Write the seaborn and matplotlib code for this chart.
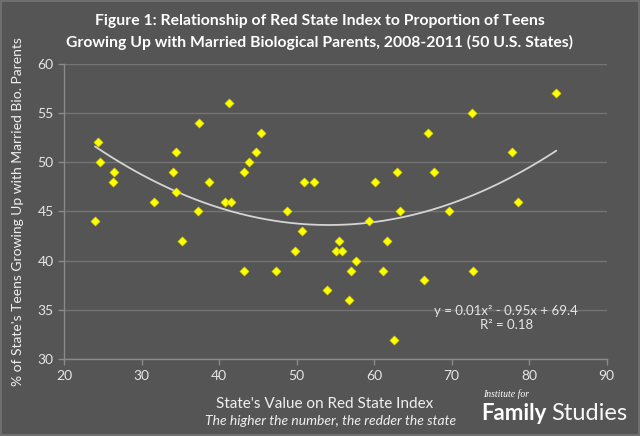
import numpy as np
import pandas as pd
import matplotlib
matplotlib.use("Agg")
import matplotlib.pyplot as plt
import seaborn as sns

red_state_index = [24.0, 24.4, 24.6, 26.5, 26.3, 31.6, 34.5, 34.1, 34.4, 35.2,
                   37.4, 37.3, 38.7, 41.3, 40.8, 41.6, 43.2, 43.9, 44.7, 45.4,
                   43.2, 47.3, 48.8, 49.8, 50.7, 51.0, 52.2, 53.9, 55.5, 55.1,
                   55.8, 57.6, 57.0, 56.8, 59.4, 60.1, 61.6, 61.1, 62.6, 62.9,
                   63.3, 66.9, 67.7, 66.4, 72.6, 69.7, 72.7, 77.8, 78.5, 83.5]
pct_married_bio = [44, 52, 50, 49, 48, 46, 51, 49, 47, 42,
                   54, 45, 48, 56, 46, 46, 49, 50, 51, 53,
                   39, 39, 45, 41, 43, 48, 48, 37, 42, 41,
                   41, 40, 39, 36, 44, 48, 42, 39, 32, 49,
                   45, 53, 49, 38, 55, 45, 39, 51, 46, 57]
x_ticks = [20, 30, 40, 50, 60, 70, 80, 90]
y_ticks = [30, 35, 40, 45, 50, 55, 60]

df = pd.DataFrame({"x": red_state_index, "y": pct_married_bio})

BG = "#555555"
sns.set_theme(style="dark")
plt.rcParams["font.family"] = ["Lato", "DejaVu Sans"]

fig = plt.figure(figsize=(6.4, 4.36), dpi=100, facecolor=BG,
                 edgecolor="#6e6e6e", linewidth=1.5)
ax = fig.add_axes([0.1, 0.176, 0.848, 0.678])
ax.set_facecolor(BG)

sns.regplot(data=df, x="x", y="y", order=2, ci=None, scatter=False, ax=ax,
            line_kws=dict(color="#d4d4d4", lw=1.3), truncate=True)
sns.scatterplot(data=df, x="x", y="y", marker="D", s=22, color="#ffff00",
                edgecolor="#c8c800", linewidth=0.4, ax=ax, zorder=5)

ax.set_xlim(20, 90)
ax.set_ylim(30, 60)
ax.set_xticks(x_ticks)
ax.set_yticks(y_ticks)
ax.grid(axis="y", color="#747474", lw=1.0)
ax.grid(axis="x", visible=False)
for s in ["top", "right"]:
    ax.spines[s].set_visible(False)
for s in ["left", "bottom"]:
    ax.spines[s].set_visible(True)
    ax.spines[s].set_color("#8a8a8a")
    ax.spines[s].set_linewidth(1.0)
ax.tick_params(axis="both", colors="#8a8a8a", length=4, width=1,
               labelcolor="#e6e6e6", labelsize=10, direction="out",
               bottom=True, left=True)
ax.set_xlabel("")
ax.set_ylabel("")

fig.text(0.5, 0.952, "Figure 1: Relationship of Red State Index to Proportion of Teens",
         ha="center", va="center", color="white", fontsize=11.3, fontweight="bold")
fig.text(0.5, 0.903, "Growing Up with Married Biological Parents, 2008-2011 (50 U.S. States)",
         ha="center", va="center", color="white", fontsize=11.3, fontweight="bold")

fig.text(0.028, 0.515, "% of State's Teens Growing Up with Married Bio. Parents",
         rotation=90, ha="center", va="center", color="#f0f0f0", fontsize=10)
fig.text(0.508, 0.073, "State's Value on Red State Index",
         ha="center", va="center", color="#f0f0f0", fontsize=11)
fig.text(0.517, 0.034, "The higher the number, the redder the state",
         ha="center", va="center", color="#f0f0f0", fontsize=10, style="italic")

ax.text(0.815, 0.14, "y = 0.01x\u00b2 - 0.95x + 69.4\nR\u00b2 = 0.18",
        transform=ax.transAxes, ha="center", va="center", color="#e6e6e6",
        fontsize=9.5, linespacing=1.15)

fig.text(0.754, 0.097, "Institute for", ha="left", va="center", color="white",
         fontsize=7, style="italic", family=["Liberation Serif", "DejaVu Serif"])
fig.text(0.752, 0.052, "Family", ha="left", va="center", color="white",
         fontsize=16, fontweight="bold")
fig.text(0.861, 0.052, "Studies", ha="left", va="center", color="#f6f6f6",
         fontsize=17, fontweight="normal")

fig.savefig("out.png", dpi=100, facecolor=BG, edgecolor="#6e6e6e")
